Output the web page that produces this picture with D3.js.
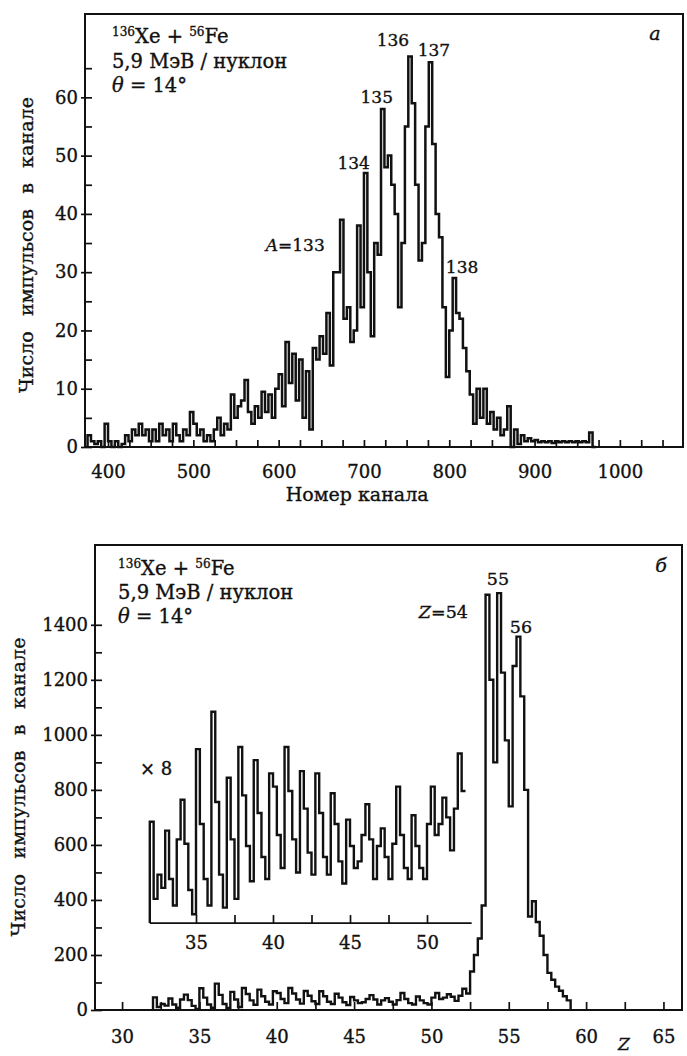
<!DOCTYPE html>
<html><head><meta charset="utf-8">
<script src="https://cdn.jsdelivr.net/npm/d3@7"></script>
<style>
body{margin:0;background:#fff;}
svg text{font-family:"DejaVu Serif",serif;fill:#111;stroke:#111;stroke-width:0.35px;}
</style></head><body>
<svg id="chart" width="687" height="1056"></svg>
<script>
// ---------------- DATA ----------------
// Panel а: counts per channel bin (bins of 4 channels, starting at channel 376)
const channelStart = 376;
const channelBinWidth = 4;
const countsA = [
  2,1,0.5,1,0,4,1,0,1,0,
  0.5,2,1,3,2,4,2,3,1,3,
  1,4,2,3,1,4,2,1,3,2,
  6,4,2,3,1,2,1,3,5,2,
  4,3,9,5,7,8,11.5,6,4,7,
  5,9.5,6,9,5,10,12.5,7,18,11,
  16,8,15,5,13,3,17,15,19,16,
  23,14,30,30,39,22,24,18,20,38,
  24,47,30,19,35,33,58,48,50,45,
  40,24,35,55,67,59,45,32,35,55,
  66,52,40,36,24,12,20,29,23,22,
  17,13,9,4,10,5,10,4,6,3,
  5,2,3,7,0,3,0.5,2,1,1.5,
  1,1.2,0.8,1,0.8,1,0.7,1,0.8,1,
  0.8,1,0.8,1,0.8,1,0.8,2.5,0
];
const xTicksA = [400,425,450,475,500,525,550,575,600,625,650,675,700,725,750,775,800,825,850,875,900,925,950,975,1000,1025,1050];
const xLabelsA = [400,500,600,700,800,900,1000];
const yMajorA = [0,10,20,30,40,50,60];
const yMinorA = [5,15,25,35,45,55,65];
const peakLabelsA = [
  {text:"136", ch:734, v:68.8},
  {text:"137", ch:782, v:67.1},
  {text:"135", ch:715, v:59.0},
  {text:"134", ch:688, v:47.7},
  {text:"138", ch:815, v:29.9}
];

// Panel б: counts per Z bin (bins of 0.25, starting at Z = 32)
const zStart = 32;
const zBinWidth = 0.25;
const countsB = [
  46,11,22,16,42,20,8,38,56,36,
  15,4,79,45,20,8,96,55,22,7,
  66,38,11,80,58,35,19,74,50,30,
  20,68,62,40,25,80,60,38,23,69,
  52,32,22,68,50,30,22,59,45,28,
  18,47,35,25,28,40,54,38,20,35,
  43,30,20,36,62,40,25,20,49,35,
  25,20,45,62,40,45,57,48,33,52,
  77,60,140,200,260,380,1509,1200,900,1515,
  1226,980,740,1250,1357,1140,800,340,395,320,
  270,200,135,110,85,70,50,35
];
const insetBinCount = 82;       // Z 32 … 52.5 shown magnified
const insetFactor = 8;          // "× 8"
const insetBase = 316;          // inset baseline in main count units
const xTicksB = [30,32.5,35,37.5,40,42.5,45,47.5,50,52.5,55,57.5,60,62.5,65];
const xLabelsB = [30,35,40,45,50,55,60,65];
const yMajorB = [0,200,400,600,800,1000,1200,1400];
const yMinorB = [100,300,500,700,900,1100,1300];
const insetTicks = [35,37.5,40,42.5,45,47.5,50];
const insetLabels = [35,40,45,50];
const insetAxisExtent = [32,52.9];
const peakLabelsB = [
  {text:"55", z:54.3, v:1545},
  {text:"56", z:55.79, v:1370}
];

// ---------------- HELPERS ----------------
const svg = d3.select("#chart");
const ink = "#111";
const fmt = d3.format("d");

function styleAxis(g, fs){
  g.select(".domain").remove();
  g.selectAll(".tick line").attr("stroke", ink).attr("stroke-width", 1.7);
  g.selectAll(".tick text").attr("font-family","DejaVu Serif").attr("font-size", fs).attr("fill", ink);
}

function supText(sel, x, y, fs){
  const t = sel.append("text").attr("x", x).attr("y", y).attr("font-size", fs);
  t.append("tspan").attr("font-size", fs*0.62).attr("dy", -fs*0.38).text("136");
  t.append("tspan").attr("dy", fs*0.38).text("Xe + ");
  t.append("tspan").attr("font-size", fs*0.62).attr("dy", -fs*0.38).text("56");
  t.append("tspan").attr("dy", fs*0.38).text("Fe");
}
function annotBlock(sel, x, ys, fs){
  supText(sel, x, ys[0], fs);
  sel.append("text").attr("x", x).attr("y", ys[1]).attr("font-size", fs).text("5,9 МэВ / нуклон");
  const t = sel.append("text").attr("x", x).attr("y", ys[2]).attr("font-size", fs);
  t.append("tspan").attr("font-style","italic").text("θ");
  t.append("tspan").text(" = 14°");
}

// ---------------- PANEL а ----------------
const xA = d3.scaleLinear().domain([373, 1074]).range([85, 683]);
const yA = d3.scaleLinear().domain([0, 74.3]).range([447, 14]);
const gA = svg.append("g");

gA.append("rect")
  .attr("x", xA.range()[0]).attr("y", yA.range()[1])
  .attr("width", xA.range()[1]-xA.range()[0]).attr("height", yA.range()[0]-yA.range()[1])
  .attr("fill","none").attr("stroke", ink).attr("stroke-width", 2);

gA.append("g").attr("transform", `translate(0,${yA(0)})`)
  .call(d3.axisBottom(xA).tickValues(xTicksA).tickSize(-7).tickPadding(18)
    .tickFormat(d => xLabelsA.includes(d) ? fmt(d) : ""))
  .call(g => styleAxis(g, 18));

gA.append("g").attr("transform", `translate(${xA.range()[0]},0)`)
  .call(d3.axisLeft(yA).tickValues(yMajorA).tickSize(-7).tickPadding(7).tickFormat(fmt))
  .call(g => styleAxis(g, 18))
  .call(g => g.selectAll(".tick line").attr("x1", -4));
gA.append("g").attr("transform", `translate(${xA.range()[0]},0)`)
  .call(d3.axisLeft(yA).tickValues(yMinorA).tickSize(-7).tickFormat(""))
  .call(g => styleAxis(g, 18));

const ptsA = [[channelStart, 0]];
countsA.forEach((v,i) => ptsA.push([channelStart + i*channelBinWidth, v]));
ptsA.push([channelStart + countsA.length*channelBinWidth, countsA[countsA.length-1]]);
const lineA = d3.line().x(d => xA(d[0])).y(d => yA(d[1])).curve(d3.curveStepAfter);
gA.append("path").attr("d", lineA(ptsA)).attr("fill","none")
  .attr("stroke", ink).attr("stroke-width", 2.5).attr("stroke-linejoin","miter");

peakLabelsA.forEach(p => gA.append("text").attr("x", xA(p.ch)).attr("y", yA(p.v))
  .attr("text-anchor","middle").attr("font-size", 17).text(p.text));
{
  const t = gA.append("text").attr("x", xA(654)).attr("y", yA(33.6)).attr("text-anchor","end").attr("font-size", 17);
  t.append("tspan").attr("font-style","italic").text("A");
  t.append("tspan").text("=133");
}
gA.append("text").attr("x", xA(1041)).attr("y", yA(69.8)).attr("text-anchor","middle")
  .attr("font-size", 19).attr("font-style","italic").text("а");
annotBlock(gA, xA(404.6), [yA(69.3), yA(65.0), yA(60.9)], 19.5);

gA.append("text").attr("x", xA(692)).attr("y", 501).attr("text-anchor","middle")
  .attr("font-size", 19).text("Номер канала");
gA.append("text").attr("transform","translate(33,245) rotate(-90)").attr("text-anchor","middle")
  .attr("font-size", 19).attr("word-spacing", 9).attr("textLength", 296).attr("lengthAdjust","spacing")
  .text("Число импульсов в канале");

// ---------------- PANEL б ----------------
const xB = d3.scaleLinear().domain([28.25, 66.2]).range([95, 682]);
const yB = d3.scaleLinear().domain([0, 1690]).range([1010, 545]);
const gB = svg.append("g");

gB.append("rect")
  .attr("x", xB.range()[0]).attr("y", yB.range()[1])
  .attr("width", xB.range()[1]-xB.range()[0]).attr("height", yB.range()[0]-yB.range()[1])
  .attr("fill","none").attr("stroke", ink).attr("stroke-width", 2);

gB.append("g").attr("transform", `translate(0,${yB(0)})`)
  .call(d3.axisBottom(xB).tickValues(xTicksB).tickSize(-8).tickPadding(20)
    .tickFormat(d => xLabelsB.includes(d) ? fmt(d) : ""))
  .call(g => styleAxis(g, 18));

gB.append("g").attr("transform", `translate(${xB.range()[0]},0)`)
  .call(d3.axisLeft(yB).tickValues(yMajorB).tickSize(-7).tickPadding(7).tickFormat(fmt))
  .call(g => styleAxis(g, 18))
  .call(g => g.selectAll(".tick line").attr("x1", -4));
gB.append("g").attr("transform", `translate(${xB.range()[0]},0)`)
  .call(d3.axisLeft(yB).tickValues(yMinorB).tickSize(-7).tickFormat(""))
  .call(g => styleAxis(g, 18));

const ptsB = [[zStart, 0]];
countsB.forEach((v,i) => ptsB.push([zStart + i*zBinWidth, v]));
ptsB.push([zStart + countsB.length*zBinWidth, 0]);
const lineB = d3.line().x(d => xB(d[0])).y(d => yB(d[1])).curve(d3.curveStepAfter);
gB.append("path").attr("d", lineB(ptsB)).attr("fill","none")
  .attr("stroke", ink).attr("stroke-width", 2.4);

// inset (×8)
const xI = d3.scaleLinear().domain([35, 50]).range([196, 427]);
const yI = v => yB(insetBase + insetFactor*v);
gB.append("line").attr("x1", xI(insetAxisExtent[0])).attr("x2", xI(insetAxisExtent[1]))
  .attr("y1", yI(0)).attr("y2", yI(0)).attr("stroke", ink).attr("stroke-width", 1.7);
gB.append("g").attr("transform", `translate(0,${yI(0)})`)
  .call(d3.axisBottom(xI).tickValues(insetTicks).tickSize(-8).tickPadding(13)
    .tickFormat(d => insetLabels.includes(d) ? fmt(d) : ""))
  .call(g => styleAxis(g, 18));
const ptsI = [[zStart, 0]];
countsB.slice(0, insetBinCount).forEach((v,i) => ptsI.push([zStart + i*zBinWidth, v]));
ptsI.push([zStart + insetBinCount*zBinWidth, countsB[insetBinCount-1]]);
const lineI = d3.line().x(d => xI(d[0])).y(d => yI(d[1])).curve(d3.curveStepAfter);
gB.append("path").attr("d", lineI(ptsI)).attr("fill","none")
  .attr("stroke", ink).attr("stroke-width", 2.4);
gB.append("text").attr("x", xB(31.16)).attr("y", yB(854)).attr("font-size", 18).text("× 8");

peakLabelsB.forEach(p => gB.append("text").attr("x", xB(p.z)).attr("y", yB(p.v))
  .attr("text-anchor","middle").attr("font-size", 17.5).text(p.text));
{
  const t = gB.append("text").attr("x", xB(52.36)).attr("y", yB(1425)).attr("text-anchor","end").attr("font-size", 17.5);
  t.append("tspan").attr("font-style","italic").text("Z");
  t.append("tspan").text("=54");
}
gB.append("text").attr("x", xB(64.84)).attr("y", yB(1592)).attr("text-anchor","middle")
  .attr("font-size", 19).attr("font-style","italic").text("б");
annotBlock(gB, xB(29.74), [yB(1581), yB(1494), yB(1407)], 19.5);
gB.append("text").attr("x", xB(62.45)).attr("y", yB(0)+40).attr("text-anchor","middle")
  .attr("font-size", 17).attr("font-style","italic").text("Z");
gB.append("text").attr("transform","translate(25,787) rotate(-90)").attr("text-anchor","middle")
  .attr("font-size", 19).attr("word-spacing", 9).attr("textLength", 299).attr("lengthAdjust","spacing")
  .text("Число импульсов в канале");
</script>
</body></html>
